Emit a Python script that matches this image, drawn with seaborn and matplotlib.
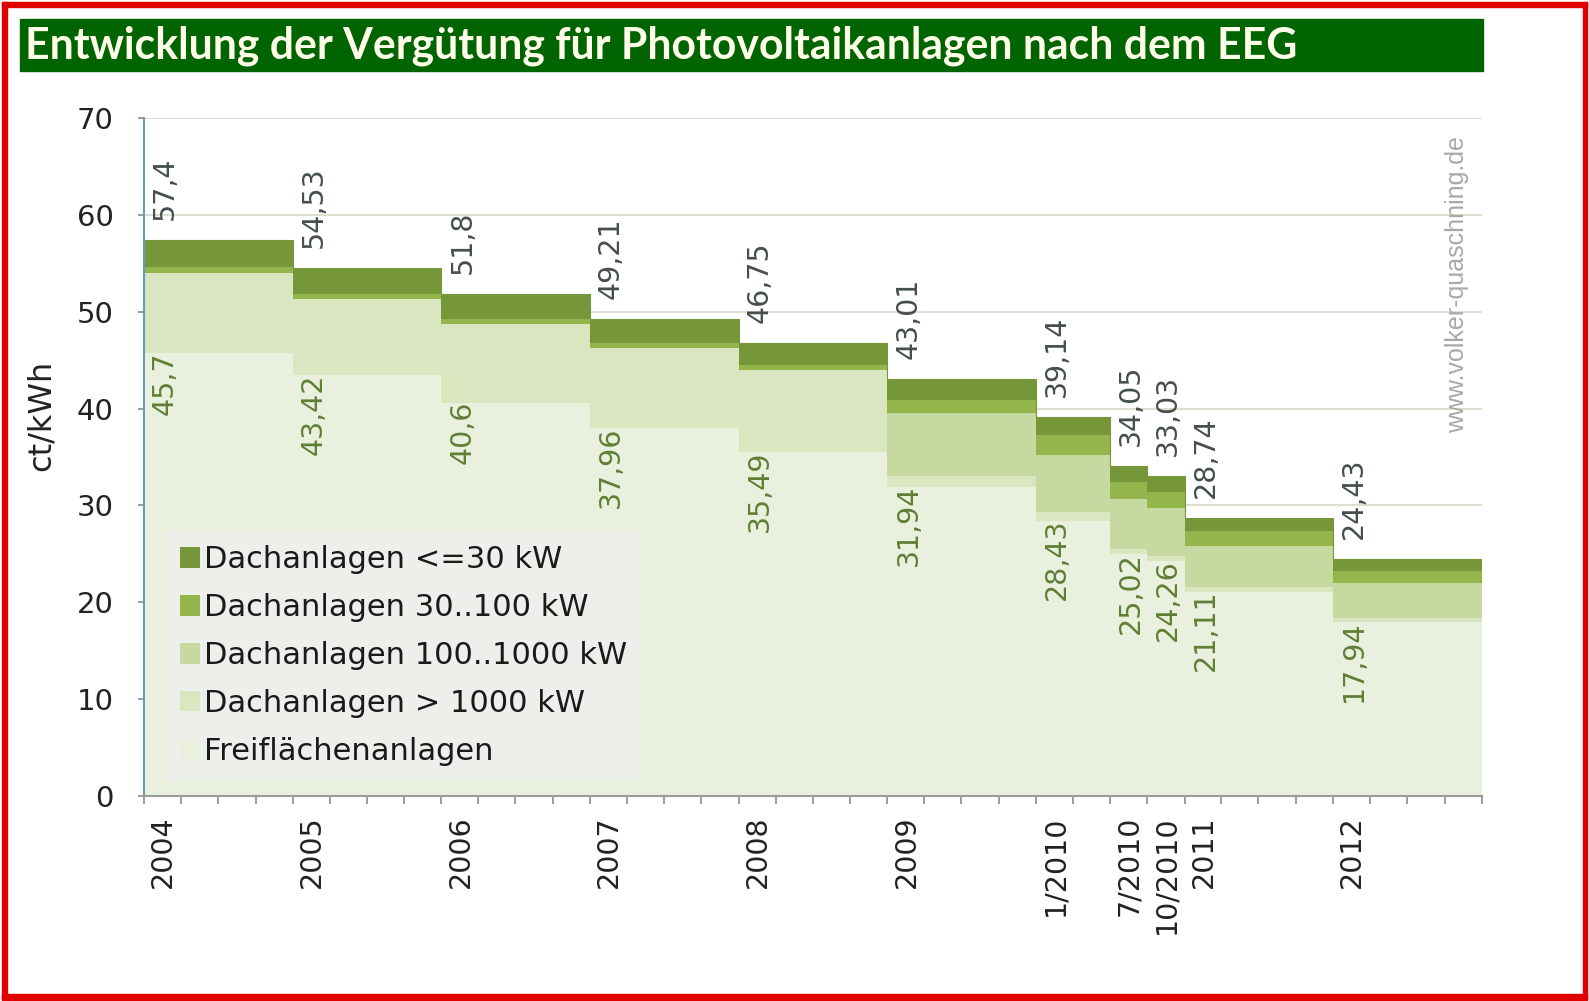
import numpy as np
import pandas as pd
import matplotlib
matplotlib.use("Agg")
import matplotlib.pyplot as plt
import matplotlib.dates as mdates
import matplotlib.transforms as mtransforms
from matplotlib.patches import Rectangle, Patch
import seaborn as sns

# EEG feed-in tariffs for PV (ct/kWh), start date of each period
starts = ['2004-01-01', '2005-01-01', '2006-01-01', '2007-01-01', '2008-01-01',
          '2009-01-01', '2010-01-01', '2010-07-01', '2010-10-01', '2011-01-01',
          '2012-01-01']
end_date = '2013-01-01'
tick_labels = ['2004', '2005', '2006', '2007', '2008', '2009',
               '1/2010', '7/2010', '10/2010', '2011', '2012']

dach_30 = [57.4, 54.53, 51.8, 49.21, 46.75, 43.01, 39.14, 34.05, 33.03, 28.74, 24.43]
dach_100 = [54.6, 51.87, 49.28, 46.82, 44.48, 40.91, 37.23, 32.39, 31.42, 27.33, 23.23]
dach_1000 = [54.0, 51.3, 48.74, 46.30, 43.99, 39.58, 35.23, 30.65, 29.73, 25.86, 21.98]
dach_gt1000 = [54.0, 51.3, 48.74, 46.30, 43.99, 33.0, 29.37, 25.55, 24.79, 21.56, 18.33]
frei = [45.7, 43.42, 40.6, 37.96, 35.49, 31.94, 28.43, 25.02, 24.26, 21.11, 17.94]

series_names = ['Dachanlagen <=30 kW', 'Dachanlagen 30..100 kW',
                'Dachanlagen 100..1000 kW', 'Dachanlagen > 1000 kW',
                'Freiflächenanlagen']
colors = ['#76963A', '#93B54C', '#C6D9A0', '#DAE6C0', '#EAF0DE']

sns.set_theme(style='white')
plt.rcParams['font.family'] = ['DejaVu Sans']

W, H = 1589, 1001
fig = plt.figure(figsize=(W / 100, H / 100), dpi=100)
ax = fig.add_axes([144 / W, 205 / H, 1338 / W, 678 / H])

x = pd.to_datetime(starts + [end_date])


def ext(v):
    return list(v) + [v[-1]]


layers = [np.zeros(len(x)), ext(frei), ext(dach_gt1000), ext(dach_1000),
          ext(dach_100), ext(dach_30)]
fill_colors = colors[::-1]
for i in range(5):
    ax.fill_between(x, layers[i], layers[i + 1], step='post',
                    color=fill_colors[i], linewidth=0, zorder=1)

df = pd.DataFrame({'date': x, 'value': ext(dach_30)})
sns.lineplot(data=df, x='date', y='value', drawstyle='steps-post',
             color=colors[0], linewidth=0.8, ax=ax, legend=False, zorder=2)

# value labels
for d, top, bot in zip(pd.to_datetime(starts), dach_30, frei):
    ax.annotate(f"{top:g}".replace('.', ','), (d, top), xytext=(21, 20),
                textcoords='offset pixels', rotation=90, ha='center', va='bottom',
                fontsize=20.5, color='#454D4D', zorder=5)
    ax.annotate(f"{bot:g}".replace('.', ','), (d, bot), xytext=(21, 2),
                textcoords='offset pixels', rotation=90, ha='center', va='top',
                fontsize=20.5, color='#5E7F35', zorder=5)

ax.set_xlim(pd.Timestamp(starts[0]), pd.Timestamp(end_date))
ax.set_ylim(0, 70)
ax.set_yticks(range(0, 71, 10))
ax.yaxis.grid(True, color='#DADDCB', linewidth=1.3)
ax.set_axisbelow(True)
ax.set_xlabel('')
ax.set_ylabel('')

ax.set_xticks(mdates.date2num(pd.to_datetime(starts)))
ax.set_xticklabels(tick_labels, rotation=90, ha='left', va='top')
ax.xaxis.set_minor_locator(mdates.MonthLocator(bymonth=[1, 4, 7, 10]))
ax.tick_params(axis='x', which='both', direction='out', length=6, width=1.2,
               color='#8C8C8C', bottom=True, pad=8, labelsize=20.5, labelcolor='#222222')
ax.tick_params(axis='y', direction='out', length=4, width=1.2, color='#8C8C8C',
               left=True, pad=18, labelsize=21, labelcolor='#222222')
offset = mtransforms.ScaledTranslation(0.05, 0, fig.dpi_scale_trans)
for lab in ax.get_xticklabels():
    lab.set_transform(lab.get_transform() + offset)

for s in ['top', 'right']:
    ax.spines[s].set_visible(False)
ax.spines['left'].set_color('#6C96C4')
ax.spines['left'].set_linewidth(1.5)
ax.spines['bottom'].set_color('#9A9A9A')
ax.spines['bottom'].set_linewidth(1.5)

handles = [Patch(facecolor=c, edgecolor='none') for c in colors]
leg = ax.legend(handles, series_names, loc='lower left', bbox_to_anchor=(0.017, 0.024),
                borderaxespad=0, fontsize=22, frameon=True, fancybox=False,
                handlelength=0.65, handleheight=0.65, handletextpad=0.12,
                labelspacing=0.62, borderpad=0.45)
leg.get_frame().set_facecolor('#EFEFEF')
leg.get_frame().set_edgecolor('none')
for t in leg.get_texts():
    t.set_color('#1A1A1A')

ax.text(0.981, 0.755, 'www.volker-quaschning.de', transform=ax.transAxes,
        rotation=90, ha='center', va='center', fontsize=18,
        family='Liberation Sans', color='#A8A8A8')

fig.text(41 / W, 1 - 415 / H, 'ct/kWh', rotation=90, ha='center', va='center',
         fontsize=23, color='#222222')

# title bar
fig.patches.append(Rectangle((20 / W, 1 - 71 / H), 1463 / W, 52 / H,
                             transform=fig.transFigure, color='#006400', zorder=0))
fig.text(25 / W, 1 - 46 / H, 'Entwicklung der Vergütung für Photovoltaikanlagen nach dem EEG',
         ha='left', va='center', fontsize=30.8, fontweight='bold',
         family=['Lato', 'DejaVu Sans'], color='#FFFFEA')

# red border
red = '#E00000'
for rx, ry, rw, rh in [(2, 2, 5, 997), (2, 2, 1585, 5), (2, 994, 1585, 6), (1583, 2, 4, 997)]:
    fig.patches.append(Rectangle((rx / W, 1 - (ry + rh) / H), rw / W, rh / H,
                                 transform=fig.transFigure, color=red, zorder=10))

fig.savefig('out.png', dpi=100)
